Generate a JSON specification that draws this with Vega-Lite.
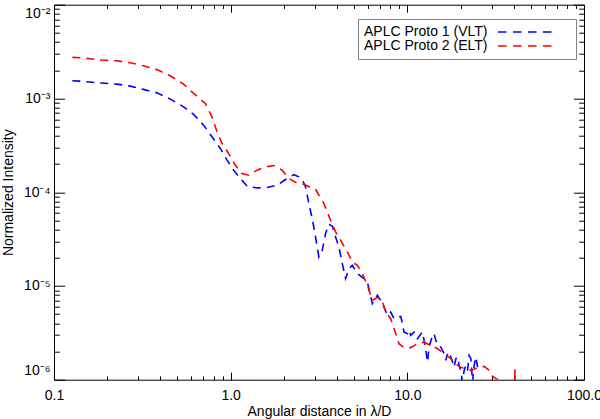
{
  "$schema": "https://vega.github.io/schema/vega-lite/v6.json",
  "width": 530,
  "height": 375,
  "autosize": {"type": "none"},
  "padding": {"left": 54, "top": 4.7, "right": 16, "bottom": 39.3},
  "background": "white",
  "config": {
    "view": {"stroke": "black", "strokeWidth": 1},
    "axis": {"grid": false, "domain": false, "tickColor": "black", "tickWidth": 1, "labelFont": "Liberation Sans", "labelFontSize": 14, "labelColor": "black", "titleFont": "Liberation Sans", "titleFontSize": 14, "titleFontWeight": "normal", "titleColor": "black", "labelFlush": false, "labelOverlap": false}
  },
  "data": {"values": [
    {"series": "APLC Proto 1 (VLT)", "x": 0.127, "y": 1.543e-3},
    {"series": "APLC Proto 1 (VLT)", "x": 0.1404, "y": 1.532e-3},
    {"series": "APLC Proto 1 (VLT)", "x": 0.160, "y": 1.495e-3},
    {"series": "APLC Proto 1 (VLT)", "x": 0.1865, "y": 1.459e-3},
    {"series": "APLC Proto 1 (VLT)", "x": 0.2268, "y": 1.422e-3},
    {"series": "APLC Proto 1 (VLT)", "x": 0.270, "y": 1.354e-3},
    {"series": "APLC Proto 1 (VLT)", "x": 0.321, "y": 1.249e-3},
    {"series": "APLC Proto 1 (VLT)", "x": 0.3824, "y": 1.149e-3},
    {"series": "APLC Proto 1 (VLT)", "x": 0.455, "y": 9.84e-4},
    {"series": "APLC Proto 1 (VLT)", "x": 0.541, "y": 8.14e-4},
    {"series": "APLC Proto 1 (VLT)", "x": 0.617, "y": 6.76e-4},
    {"series": "APLC Proto 1 (VLT)", "x": 0.703, "y": 5.19e-4},
    {"series": "APLC Proto 1 (VLT)", "x": 0.784, "y": 3.90e-4},
    {"series": "APLC Proto 1 (VLT)", "x": 0.874, "y": 2.93e-4},
    {"series": "APLC Proto 1 (VLT)", "x": 0.954, "y": 2.196e-4},
    {"series": "APLC Proto 1 (VLT)", "x": 1.04, "y": 1.718e-4},
    {"series": "APLC Proto 1 (VLT)", "x": 1.135, "y": 1.40e-4},
    {"series": "APLC Proto 1 (VLT)", "x": 1.239, "y": 1.159e-4},
    {"series": "APLC Proto 1 (VLT)", "x": 1.411, "y": 1.111e-4},
    {"series": "APLC Proto 1 (VLT)", "x": 1.609, "y": 1.122e-4},
    {"series": "APLC Proto 1 (VLT)", "x": 1.834, "y": 1.188e-4},
    {"series": "APLC Proto 1 (VLT)", "x": 2.043, "y": 1.366e-4},
    {"series": "APLC Proto 1 (VLT)", "x": 2.277, "y": 1.538e-4},
    {"series": "APLC Proto 1 (VLT)", "x": 2.431, "y": 1.457e-4},
    {"series": "APLC Proto 1 (VLT)", "x": 2.552, "y": 1.343e-4},
    {"series": "APLC Proto 1 (VLT)", "x": 2.653, "y": 1.139e-4},
    {"series": "APLC Proto 1 (VLT)", "x": 2.77, "y": 7.57e-5},
    {"series": "APLC Proto 1 (VLT)", "x": 2.895, "y": 5.24e-5},
    {"series": "APLC Proto 1 (VLT)", "x": 3.023, "y": 3.33e-5},
    {"series": "APLC Proto 1 (VLT)", "x": 3.156, "y": 2.04e-5},
    {"series": "APLC Proto 1 (VLT)", "x": 3.299, "y": 2.40e-5},
    {"series": "APLC Proto 1 (VLT)", "x": 3.445, "y": 3.62e-5},
    {"series": "APLC Proto 1 (VLT)", "x": 3.597, "y": 4.55e-5},
    {"series": "APLC Proto 1 (VLT)", "x": 3.775, "y": 4.33e-5},
    {"series": "APLC Proto 1 (VLT)", "x": 3.926, "y": 3.33e-5},
    {"series": "APLC Proto 1 (VLT)", "x": 4.099, "y": 2.605e-5},
    {"series": "APLC Proto 1 (VLT)", "x": 4.285, "y": 1.733e-5},
    {"series": "APLC Proto 1 (VLT)", "x": 4.473, "y": 1.198e-5},
    {"series": "APLC Proto 1 (VLT)", "x": 4.670, "y": 1.532e-5},
    {"series": "APLC Proto 1 (VLT)", "x": 4.883, "y": 1.662e-5},
    {"series": "APLC Proto 1 (VLT)", "x": 5.212, "y": 1.355e-5},
    {"series": "APLC Proto 1 (VLT)", "x": 5.681, "y": 1.198e-5},
    {"series": "APLC Proto 1 (VLT)", "x": 5.94, "y": 1.102e-5},
    {"series": "APLC Proto 1 (VLT)", "x": 6.34, "y": 6.48e-6},
    {"series": "APLC Proto 1 (VLT)", "x": 6.768, "y": 7.94e-6},
    {"series": "APLC Proto 1 (VLT)", "x": 7.066, "y": 7.03e-6},
    {"series": "APLC Proto 1 (VLT)", "x": 7.377, "y": 5.96e-6},
    {"series": "APLC Proto 1 (VLT)", "x": 7.712, "y": 4.86e-6},
    {"series": "APLC Proto 1 (VLT)", "x": 8.05, "y": 5.27e-6},
    {"series": "APLC Proto 1 (VLT)", "x": 8.41, "y": 4.48e-6},
    {"series": "APLC Proto 1 (VLT)", "x": 8.788, "y": 4.66e-6},
    {"series": "APLC Proto 1 (VLT)", "x": 9.177, "y": 4.74e-6},
    {"series": "APLC Proto 1 (VLT)", "x": 9.38, "y": 3.96e-6},
    {"series": "APLC Proto 1 (VLT)", "x": 9.58, "y": 3.22e-6},
    {"series": "APLC Proto 1 (VLT)", "x": 10.01, "y": 3.10e-6},
    {"series": "APLC Proto 1 (VLT)", "x": 10.22, "y": 3.36e-6},
    {"series": "APLC Proto 1 (VLT)", "x": 10.45, "y": 2.97e-6},
    {"series": "APLC Proto 1 (VLT)", "x": 10.92, "y": 3.22e-6},
    {"series": "APLC Proto 1 (VLT)", "x": 11.16, "y": 3.10e-6},
    {"series": "APLC Proto 1 (VLT)", "x": 11.41, "y": 2.74e-6},
    {"series": "APLC Proto 1 (VLT)", "x": 12.18, "y": 3.22e-6},
    {"series": "APLC Proto 1 (VLT)", "x": 12.44, "y": 2.63e-6},
    {"series": "APLC Proto 1 (VLT)", "x": 12.72, "y": 2.055e-6},
    {"series": "APLC Proto 1 (VLT)", "x": 13.0, "y": 1.542e-6},
    {"series": "APLC Proto 1 (VLT)", "x": 13.28, "y": 2.23e-6},
    {"series": "APLC Proto 1 (VLT)", "x": 13.88, "y": 2.97e-6},
    {"series": "APLC Proto 1 (VLT)", "x": 14.17, "y": 3.10e-6},
    {"series": "APLC Proto 1 (VLT)", "x": 14.49, "y": 2.63e-6},
    {"series": "APLC Proto 1 (VLT)", "x": 14.82, "y": 2.32e-6},
    {"series": "APLC Proto 1 (VLT)", "x": 15.47, "y": 2.23e-6},
    {"series": "APLC Proto 1 (VLT)", "x": 16.15, "y": 1.895e-6},
    {"series": "APLC Proto 1 (VLT)", "x": 16.51, "y": 1.608e-6},
    {"series": "APLC Proto 1 (VLT)", "x": 16.89, "y": 1.895e-6},
    {"series": "APLC Proto 1 (VLT)", "x": 17.24, "y": 1.97e-6},
    {"series": "APLC Proto 1 (VLT)", "x": 17.63, "y": 1.743e-6},
    {"series": "APLC Proto 1 (VLT)", "x": 18.02, "y": 1.542e-6},
    {"series": "APLC Proto 1 (VLT)", "x": 18.41, "y": 1.363e-6},
    {"series": "APLC Proto 1 (VLT)", "x": 18.82, "y": 1.676e-6},
    {"series": "APLC Proto 1 (VLT)", "x": 19.24, "y": 1.743e-6},
    {"series": "APLC Proto 1 (VLT)", "x": 19.65, "y": 1.42e-6},
    {"series": "APLC Proto 1 (VLT)", "x": 20.09, "y": 1.206e-6},
    {"series": "APLC Proto 1 (VLT)", "x": 20.54, "y": 9.5e-7},
    {"series": "APLC Proto 1 (VLT)", "x": 20.97, "y": 1.257e-6},
    {"series": "APLC Proto 1 (VLT)", "x": 21.44, "y": 1.42e-6},
    {"series": "APLC Proto 1 (VLT)", "x": 21.92, "y": 1.257e-6},
    {"series": "APLC Proto 1 (VLT)", "x": 22.39, "y": 1.817e-6},
    {"series": "APLC Proto 1 (VLT)", "x": 22.89, "y": 1.676e-6},
    {"series": "APLC Proto 1 (VLT)", "x": 23.4, "y": 9.5e-7},
    {"series": "APLC Proto 1 (VLT)", "x": 23.89, "y": 1.42e-6},
    {"series": "APLC Proto 1 (VLT)", "x": 24.43, "y": 1.743e-6},
    {"series": "APLC Proto 1 (VLT)", "x": 24.98, "y": 1.363e-6},
    {"series": "APLC Proto 2 (ELT)", "x": 0.127, "y": 2.744e-3},
    {"series": "APLC Proto 2 (ELT)", "x": 0.1404, "y": 2.72e-3},
    {"series": "APLC Proto 2 (ELT)", "x": 0.160, "y": 2.65e-3},
    {"series": "APLC Proto 2 (ELT)", "x": 0.1865, "y": 2.57e-3},
    {"series": "APLC Proto 2 (ELT)", "x": 0.2268, "y": 2.52e-3},
    {"series": "APLC Proto 2 (ELT)", "x": 0.270, "y": 2.40e-3},
    {"series": "APLC Proto 2 (ELT)", "x": 0.321, "y": 2.23e-3},
    {"series": "APLC Proto 2 (ELT)", "x": 0.3824, "y": 2.03e-3},
    {"series": "APLC Proto 2 (ELT)", "x": 0.455, "y": 1.746e-3},
    {"series": "APLC Proto 2 (ELT)", "x": 0.541, "y": 1.422e-3},
    {"series": "APLC Proto 2 (ELT)", "x": 0.617, "y": 1.132e-3},
    {"series": "APLC Proto 2 (ELT)", "x": 0.7186, "y": 8.85e-4},
    {"series": "APLC Proto 2 (ELT)", "x": 0.784, "y": 6.37e-4},
    {"series": "APLC Proto 2 (ELT)", "x": 0.837, "y": 4.41e-4},
    {"series": "APLC Proto 2 (ELT)", "x": 0.894, "y": 3.31e-4},
    {"series": "APLC Proto 2 (ELT)", "x": 0.974, "y": 2.59e-4},
    {"series": "APLC Proto 2 (ELT)", "x": 1.063, "y": 1.94e-4},
    {"series": "APLC Proto 2 (ELT)", "x": 1.161, "y": 1.584e-4},
    {"series": "APLC Proto 2 (ELT)", "x": 1.265, "y": 1.519e-4},
    {"series": "APLC Proto 2 (ELT)", "x": 1.411, "y": 1.718e-4},
    {"series": "APLC Proto 2 (ELT)", "x": 1.573, "y": 1.863e-4},
    {"series": "APLC Proto 2 (ELT)", "x": 1.753, "y": 1.928e-4},
    {"series": "APLC Proto 2 (ELT)", "x": 1.957, "y": 1.718e-4},
    {"series": "APLC Proto 2 (ELT)", "x": 2.133, "y": 1.40e-4},
    {"series": "APLC Proto 2 (ELT)", "x": 2.328, "y": 1.279e-4},
    {"series": "APLC Proto 2 (ELT)", "x": 2.594, "y": 1.217e-4},
    {"series": "APLC Proto 2 (ELT)", "x": 3.023, "y": 1.069e-4},
    {"series": "APLC Proto 2 (ELT)", "x": 3.37, "y": 7.57e-5},
    {"series": "APLC Proto 2 (ELT)", "x": 3.677, "y": 5.02e-5},
    {"series": "APLC Proto 2 (ELT)", "x": 3.926, "y": 3.77e-5},
    {"series": "APLC Proto 2 (ELT)", "x": 4.19, "y": 3.07e-5},
    {"series": "APLC Proto 2 (ELT)", "x": 4.574, "y": 2.305e-5},
    {"series": "APLC Proto 2 (ELT)", "x": 4.883, "y": 1.80e-5},
    {"series": "APLC Proto 2 (ELT)", "x": 5.212, "y": 1.662e-5},
    {"series": "APLC Proto 2 (ELT)", "x": 5.564, "y": 1.355e-5},
    {"series": "APLC Proto 2 (ELT)", "x": 5.94, "y": 1.016e-5},
    {"series": "APLC Proto 2 (ELT)", "x": 6.34, "y": 7.03e-6},
    {"series": "APLC Proto 2 (ELT)", "x": 6.795, "y": 7.57e-6},
    {"series": "APLC Proto 2 (ELT)", "x": 7.158, "y": 7.20e-6},
    {"series": "APLC Proto 2 (ELT)", "x": 7.54, "y": 5.27e-6},
    {"series": "APLC Proto 2 (ELT)", "x": 8.05, "y": 4.48e-6},
    {"series": "APLC Proto 2 (ELT)", "x": 8.596, "y": 3.10e-6},
    {"series": "APLC Proto 2 (ELT)", "x": 8.97, "y": 2.42e-6},
    {"series": "APLC Proto 2 (ELT)", "x": 9.58, "y": 2.20e-6},
    {"series": "APLC Proto 2 (ELT)", "x": 10.45, "y": 2.20e-6},
    {"series": "APLC Proto 2 (ELT)", "x": 11.41, "y": 2.42e-6},
    {"series": "APLC Proto 2 (ELT)", "x": 12.44, "y": 2.52e-6},
    {"series": "APLC Proto 2 (ELT)", "x": 13.57, "y": 2.32e-6},
    {"series": "APLC Proto 2 (ELT)", "x": 14.82, "y": 2.14e-6},
    {"series": "APLC Proto 2 (ELT)", "x": 16.15, "y": 1.895e-6},
    {"series": "APLC Proto 2 (ELT)", "x": 17.63, "y": 1.676e-6},
    {"series": "APLC Proto 2 (ELT)", "x": 19.24, "y": 1.42e-6},
    {"series": "APLC Proto 2 (ELT)", "x": 20.97, "y": 1.31e-6},
    {"series": "APLC Proto 2 (ELT)", "x": 22.89, "y": 1.257e-6},
    {"series": "APLC Proto 2 (ELT)", "x": 24.98, "y": 1.343e-6},
    {"series": "APLC Proto 2 (ELT)", "x": 27.23, "y": 1.387e-6},
    {"series": "APLC Proto 2 (ELT)", "x": 29.07, "y": 1.257e-6},
    {"series": "APLC Proto 2 (ELT)", "x": 30.39, "y": 1.084e-6},
    {"series": "APLC Proto 2 (ELT)", "x": 32.43, "y": 1.007e-6},
    {"series": "APLC Proto 2 (ELT)", "x": 33.87, "y": 8e-7},
    {"series": "APLC Proto 2 (ELT)", "x": 38.6, "y": 8e-7},
    {"series": "APLC Proto 2 (ELT)", "x": 40.5, "y": 8e-7},
    {"series": "APLC Proto 2 (ELT)", "x": 40.66, "y": 1.29e-6},
    {"series": "APLC Proto 2 (ELT)", "x": 40.8, "y": 8e-7}
  ]},
  "resolve": {"axis": {"x": "independent", "y": "independent"}},
  "layer": [
    {
      "mark": {"type": "line", "clip": true, "strokeWidth": 1.6, "strokeDash": [8, 6]},
      "encoding": {
        "x": {"field": "x", "type": "quantitative", "scale": {"type": "log", "domain": [0.1, 100], "nice": false},
          "axis": {"orient": "bottom", "values": [0.1, 1, 10, 100], "tickSize": -7.5, "labelPadding": 16.5, "labelExpr": "format(datum.value, '.1f')", "title": "Angular distance in λ/D", "titleBaseline": "alphabetic", "titleY": 35.7}},
        "y": {"field": "y", "type": "quantitative", "scale": {"type": "log", "domain": [1e-6, 1e-2], "nice": false},
          "axis": {"orient": "left", "values": [1e-6, 1e-5, 1e-4, 1e-3, 1e-2], "tickSize": -10.6, "labelPadding": 14.6, "labelFlush": true, "labelFlushOffset": -2, "labelExpr": "'10⁻' + ['','¹','²','³','⁴','⁵','⁶'][round(-log(datum.value)/LN10)]", "title": "Normalized Intensity", "titleX": -42, "titleBaseline": "alphabetic"}},
        "color": {"field": "series", "type": "nominal",
          "scale": {"domain": ["APLC Proto 1 (VLT)", "APLC Proto 2 (ELT)"], "range": ["#0000ff", "#ff0000"]},
          "legend": {"orient": "none", "legendX": 304, "legendY": 14.3, "title": null, "symbolType": "M-5.92,0H5.92", "symbolSize": 132, "symbolStrokeWidth": 1.6, "symbolFillColor": "transparent", "symbolDash": [8.5, 6.5, 8.5, 6.5, 8.5, 6.5, 8.5, 30], "symbolOffset": 161, "labelOffset": -175, "labelFont": "Liberation Sans", "labelFontSize": 14, "labelColor": "black", "labelLimit": 0, "padding": 6, "strokeColor": "#808080", "fillColor": "white", "rowPadding": 0, "cornerRadius": 0}}
      }
    },
    {
      "mark": {"type": "line", "opacity": 0},
      "encoding": {
        "x": {"field": "x", "type": "quantitative", "axis": {"orient": "bottom", "values": [0.2,0.3,0.4,0.5,0.6,0.7,0.8,0.9,2,3,4,5,6,7,8,9,20,30,40,50,60,70,80,90], "tickSize": -3.75, "labels": false, "title": null}},
        "y": {"field": "y", "type": "quantitative", "axis": {"orient": "left", "values": [2e-6,3e-6,4e-6,5e-6,6e-6,7e-6,8e-6,9e-6,2e-5,3e-5,4e-5,5e-5,6e-5,7e-5,8e-5,9e-5,2e-4,3e-4,4e-4,5e-4,6e-4,7e-4,8e-4,9e-4,2e-3,3e-3,4e-3,5e-3,6e-3,7e-3,8e-3,9e-3], "tickSize": -5.3, "labels": false, "title": null}},
        "detail": {"field": "series"}
      }
    },
    {
      "mark": {"type": "line", "opacity": 0},
      "encoding": {
        "x": {"field": "x", "type": "quantitative", "axis": {"orient": "top", "values": [0.1, 1, 10, 100], "tickSize": -7.5, "labels": false, "title": null}},
        "y": {"field": "y", "type": "quantitative", "axis": {"orient": "right", "values": [1e-6, 1e-5, 1e-4, 1e-3, 1e-2], "tickSize": -10.6, "labels": false, "title": null}},
        "detail": {"field": "series"}
      }
    },
    {
      "mark": {"type": "line", "opacity": 0},
      "encoding": {
        "x": {"field": "x", "type": "quantitative", "axis": {"orient": "top", "values": [0.2,0.3,0.4,0.5,0.6,0.7,0.8,0.9,2,3,4,5,6,7,8,9,20,30,40,50,60,70,80,90], "tickSize": -3.75, "labels": false, "title": null}},
        "y": {"field": "y", "type": "quantitative", "axis": {"orient": "right", "values": [2e-6,3e-6,4e-6,5e-6,6e-6,7e-6,8e-6,9e-6,2e-5,3e-5,4e-5,5e-5,6e-5,7e-5,8e-5,9e-5,2e-4,3e-4,4e-4,5e-4,6e-4,7e-4,8e-4,9e-4,2e-3,3e-3,4e-3,5e-3,6e-3,7e-3,8e-3,9e-3], "tickSize": -5.3, "labels": false, "title": null}},
        "detail": {"field": "series"}
      }
    }
  ]
}
